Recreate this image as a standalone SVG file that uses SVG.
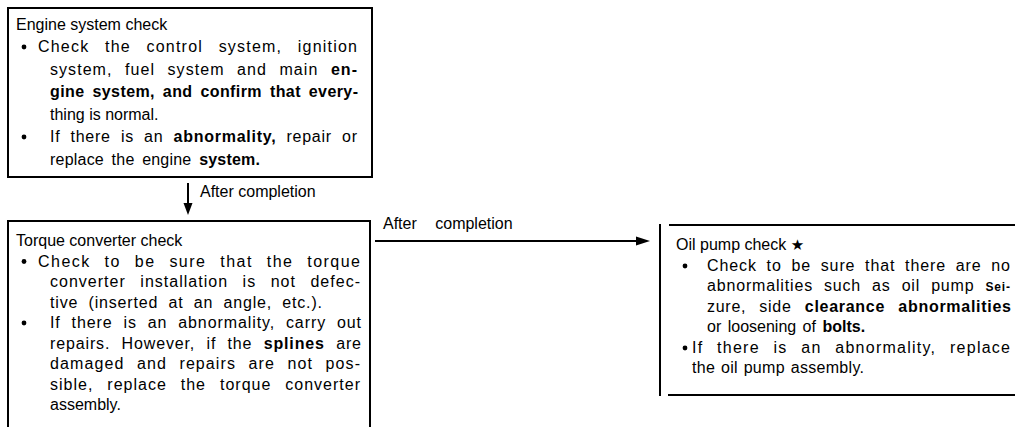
<svg xmlns="http://www.w3.org/2000/svg" width="1015" height="427" viewBox="0 0 1015 427">
<style>
text{font-family:"Liberation Sans",Arial,"DejaVu Sans",sans-serif;font-size:16px;fill:#000}
.b{font-weight:bold}
.box{fill:none;stroke:#000;stroke-width:2}
.ln{stroke:#000;stroke-width:2;fill:none}
.dot{fill:#000}
</style>
<rect width="1015" height="427" fill="#fff"/>
<g id="engine">
<rect class="box" x="8" y="8" width="364" height="169"/>
<text x="16" y="30">Engine system check</text>
<circle class="dot" cx="24" cy="47" r="2.4"/>
<text x="38" y="52" word-spacing="10" textLength="319">Check the control system, ignition</text>
<text x="50" y="74.5" word-spacing="7" textLength="307">system, fuel system and main <tspan class="b">en-</tspan></text>
<text class="b" x="50" y="97" word-spacing="3" textLength="308">gine system, and confirm that every-</text>
<text x="50" y="119.5">thing is normal.</text>
<circle class="dot" cx="24" cy="137" r="2.4"/>
<text x="50" y="142" word-spacing="5" textLength="307">If there is an <tspan class="b">abnormality,</tspan> repair or</text>
<text x="50" y="164.5" word-spacing="3" textLength="210">replace the engine <tspan class="b">system.</tspan></text>
</g>
<g id="torque">
<path class="box" d="M8,427V221H370V427"/>
<text x="16" y="246">Torque converter check</text>
<circle class="dot" cx="24" cy="261.5" r="2.4"/>
<text x="38" y="266.5" word-spacing="8" textLength="322">Check to be sure that the torque</text>
<text x="50" y="287" word-spacing="9" textLength="310">converter installation is not defec-</text>
<text x="50" y="307.5" word-spacing="5" textLength="272">tive (inserted at an angle, etc.).</text>
<circle class="dot" cx="24" cy="323" r="2.4"/>
<text x="50" y="328" word-spacing="5.5" textLength="311">If there is an abnormality, carry out</text>
<text x="50" y="348.5" word-spacing="6" textLength="311">repairs. However, if the <tspan class="b">splines</tspan> are</text>
<text x="50" y="369" word-spacing="7" textLength="310">damaged and repairs are not pos-</text>
<text x="50" y="389.5" word-spacing="8.5" textLength="310">sible, replace the torque converter</text>
<text x="50" y="410">assembly.</text>
</g>
<g id="oilpump">
<path class="ln" d="M660,224V396" stroke-width="3"/>
<path class="ln" d="M669,225H1015"/>
<path class="ln" d="M668,395H1015" stroke-width="3"/>
<text x="676" y="250">Oil pump check <tspan font-family="DejaVu Sans" font-size="15">★</tspan></text>
<circle class="dot" cx="685" cy="266" r="2.4"/>
<text x="707" y="271" word-spacing="4.3" textLength="303">Check to be sure that there are no</text>
<text x="707" y="291" word-spacing="5.7" textLength="303">abnormalities such as oil pump <tspan class="b" font-size="12">Sei-</tspan></text>
<text x="707" y="312" word-spacing="8" textLength="304">zure, side <tspan class="b">clearance abnormalities</tspan></text>
<text x="707" y="332" word-spacing="2">or loosening of <tspan class="b">bolts.</tspan></text>
<circle class="dot" cx="685" cy="348" r="2.4"/>
<text x="692" y="353" word-spacing="8" textLength="318">If there is an abnormality, replace</text>
<text x="692" y="373" word-spacing="1" textLength="172">the oil pump assembly.</text>
</g>
<g id="connectors">
<path class="ln" d="M188,183V205"/>
<polygon points="183.5,203 192.5,203 188,215" fill="#000"/>
<text x="200" y="197">After completion</text>
<path class="ln" d="M375,241H637"/>
<polygon points="636,236.5 636,245.5 650,241" fill="#000"/>
<text x="383" y="229" word-spacing="14">After completion</text>
</g>
</svg>
